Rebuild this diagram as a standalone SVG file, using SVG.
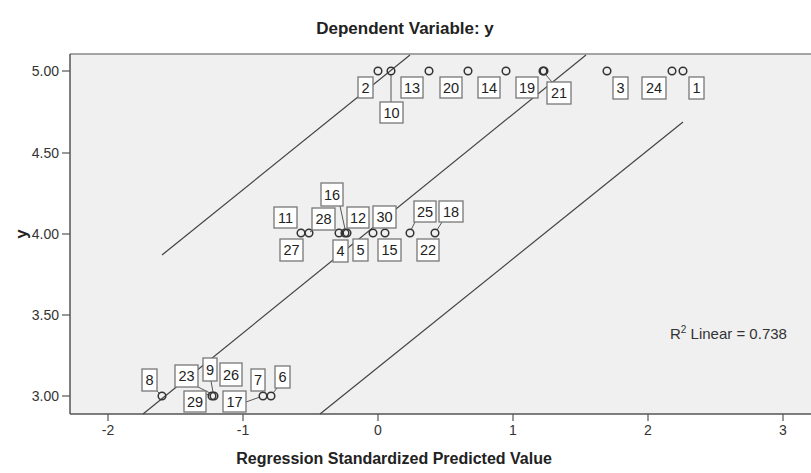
<svg xmlns="http://www.w3.org/2000/svg" width="811" height="473" viewBox="0 0 811 473">
<style>
.t{font-family:"Liberation Sans",Arial,sans-serif;fill:#333}
.tk{font-family:"Liberation Sans",Arial,sans-serif;font-size:14px;fill:#333}
.ttl{font-family:"Liberation Sans",Arial,sans-serif;font-weight:bold;fill:#222}
.lb rect{fill:#fff;stroke:#777;stroke-width:1.3}
.lb text{font-family:"Liberation Sans",Arial,sans-serif;font-size:14.5px;fill:#222;text-anchor:middle}
.pt circle{fill:none;stroke:#333;stroke-width:1.5}
.ld{stroke:#555;stroke-width:1}
.fit{stroke:#444;stroke-width:1.2;fill:none}
.tick{stroke:#555;stroke-width:1.2}
</style>
<rect width="811" height="473" fill="#fff"/>
<g id="plot-area">
<rect x="70" y="54" width="741" height="360" fill="#f0f0f0"/>
<line x1="70" y1="54" x2="811" y2="54" stroke="#888" stroke-width="1.5"/>
<line x1="70" y1="54" x2="70" y2="414" stroke="#555" stroke-width="1.5"/>
<line x1="70" y1="414" x2="811" y2="414" stroke="#555" stroke-width="1.5"/>
</g>
<g id="axes">
<g class="tick">
<line x1="62" y1="71" x2="70" y2="71"/><line x1="62" y1="153" x2="70" y2="153"/><line x1="62" y1="234" x2="70" y2="234"/><line x1="62" y1="315" x2="70" y2="315"/><line x1="62" y1="396" x2="70" y2="396"/>
<line x1="108" y1="414" x2="108" y2="421"/><line x1="243" y1="414" x2="243" y2="421"/><line x1="378" y1="414" x2="378" y2="421"/><line x1="513" y1="414" x2="513" y2="421"/><line x1="648" y1="414" x2="648" y2="421"/><line x1="783" y1="414" x2="783" y2="421"/>
</g>
<g class="tk" text-anchor="end">
<text x="59" y="76">5.00</text><text x="59" y="158">4.50</text><text x="59" y="239">4.00</text><text x="59" y="320">3.50</text><text x="59" y="401">3.00</text>
</g>
<g class="tk" text-anchor="middle">
<text x="108" y="435">-2</text><text x="243" y="435">-1</text><text x="378" y="435">0</text><text x="513" y="435">1</text><text x="648" y="435">2</text><text x="783" y="435">3</text>
</g>
<text class="ttl" x="405" y="34" font-size="17" text-anchor="middle">Dependent Variable: y</text>
<text class="ttl" x="394" y="464" font-size="16" text-anchor="middle">Regression Standardized Predicted Value</text>
<text class="ttl" x="0" y="0" font-size="17" text-anchor="middle" transform="translate(27,234) rotate(-90)">y</text>
<text class="t" x="670" y="339" font-size="15">R<tspan font-size="10" dy="-6">2</tspan><tspan dy="6"> Linear = 0.738</tspan></text>
</g>
<g id="connectors">
<line class="fit" x1="143" y1="414" x2="586" y2="55"/>
<line class="fit" x1="162" y1="255" x2="410" y2="55"/>
<line class="fit" x1="320" y1="414" x2="683" y2="122"/>
<line class="ld" x1="391" y1="75" x2="391" y2="102"/>
<line class="ld" x1="546" y1="75" x2="552" y2="82"/>
<line class="ld" x1="340" y1="206" x2="345" y2="229"/>
<line class="ld" x1="313" y1="230" x2="310" y2="232"/>
<line class="ld" x1="415" y1="222" x2="411" y2="230"/>
<line class="ld" x1="442" y1="222" x2="437" y2="230"/>
<line class="ld" x1="157" y1="391" x2="160" y2="394"/>
<line class="ld" x1="198" y1="387" x2="210" y2="393"/>
<line class="ld" x1="211" y1="381" x2="213" y2="392"/>
<line class="ld" x1="206" y1="394" x2="210" y2="395"/>
<line class="ld" x1="246" y1="402" x2="260" y2="397"/>
<line class="ld" x1="262" y1="391" x2="264" y2="393"/>
<line class="ld" x1="277" y1="388" x2="273" y2="393"/>
</g>
<g id="points" class="pt">
<circle cx="378" cy="71" r="3.8"/><circle cx="391" cy="71" r="3.8"/><circle cx="429" cy="71" r="3.8"/><circle cx="468" cy="71" r="3.8"/><circle cx="506" cy="71" r="3.8"/><circle cx="543" cy="71" r="3.8"/><circle cx="544" cy="71" r="3.8"/><circle cx="607" cy="71" r="3.8"/><circle cx="672" cy="71" r="3.8"/><circle cx="683" cy="71" r="3.8"/>
<circle cx="301" cy="233" r="3.8"/><circle cx="309" cy="233" r="3.8"/><circle cx="339" cy="233" r="3.8"/><circle cx="345" cy="233" r="3.8"/><circle cx="347" cy="233" r="3.8"/><circle cx="373" cy="233" r="3.8"/><circle cx="385" cy="233" r="3.8"/><circle cx="410" cy="233" r="3.8"/><circle cx="435" cy="233" r="3.8"/>
<circle cx="162" cy="396" r="3.8"/><circle cx="212" cy="396" r="3.8"/><circle cx="214" cy="396" r="3.8"/><circle cx="263" cy="396" r="3.8"/><circle cx="271" cy="396" r="3.8"/>
</g>
<g id="label-2" class="lb"><rect x="358" y="77" width="15" height="21"/><text x="365.5" y="93">2</text></g>
<g id="label-10" class="lb"><rect x="380" y="102" width="23" height="21"/><text x="391.5" y="118">10</text></g>
<g id="label-13" class="lb"><rect x="401" y="77" width="22" height="21"/><text x="412" y="93">13</text></g>
<g id="label-20" class="lb"><rect x="440" y="77" width="22" height="21"/><text x="451" y="93">20</text></g>
<g id="label-14" class="lb"><rect x="478" y="77" width="22" height="21"/><text x="489" y="93">14</text></g>
<g id="label-19" class="lb"><rect x="516" y="77" width="22" height="21"/><text x="527" y="93">19</text></g>
<g id="label-21" class="lb"><rect x="547" y="82" width="24" height="22"/><text x="559" y="98">21</text></g>
<g id="label-3" class="lb"><rect x="613" y="77" width="15" height="22"/><text x="620.5" y="93">3</text></g>
<g id="label-24" class="lb"><rect x="642" y="77" width="24" height="22"/><text x="654" y="93">24</text></g>
<g id="label-1" class="lb"><rect x="689" y="77" width="15" height="22"/><text x="696.5" y="93">1</text></g>
<g id="label-16" class="lb"><rect x="321" y="183" width="22" height="23"/><text x="332" y="200">16</text></g>
<g id="label-11" class="lb"><rect x="274" y="207" width="23" height="21"/><text x="285.5" y="223">11</text></g>
<g id="label-28" class="lb"><rect x="312" y="208" width="23" height="22"/><text x="323.5" y="224">28</text></g>
<g id="label-12" class="lb"><rect x="347" y="207" width="22" height="21"/><text x="358" y="223">12</text></g>
<g id="label-30" class="lb"><rect x="373" y="206" width="23" height="22"/><text x="384.5" y="222">30</text></g>
<g id="label-25" class="lb"><rect x="414" y="201" width="22" height="21"/><text x="425" y="217">25</text></g>
<g id="label-18" class="lb"><rect x="439" y="201" width="24" height="21"/><text x="451" y="217">18</text></g>
<g id="label-27" class="lb"><rect x="280" y="239" width="23" height="22"/><text x="291.5" y="255">27</text></g>
<g id="label-4" class="lb"><rect x="333" y="240" width="15" height="22"/><text x="340.5" y="256">4</text></g>
<g id="label-5" class="lb"><rect x="353" y="239" width="15" height="22"/><text x="360.5" y="255">5</text></g>
<g id="label-15" class="lb"><rect x="378" y="239" width="23" height="22"/><text x="389.5" y="255">15</text></g>
<g id="label-22" class="lb"><rect x="417" y="239" width="22" height="22"/><text x="428" y="255">22</text></g>
<g id="label-8" class="lb"><rect x="142" y="369" width="15" height="22"/><text x="149.5" y="385">8</text></g>
<g id="label-23" class="lb"><rect x="175" y="365" width="23" height="22"/><text x="186.5" y="381">23</text></g>
<g id="label-9" class="lb"><rect x="203" y="358" width="14" height="23"/><text x="210" y="375">9</text></g>
<g id="label-26" class="lb"><rect x="220" y="363" width="22" height="23"/><text x="231" y="380">26</text></g>
<g id="label-29" class="lb"><rect x="184" y="391" width="22" height="21"/><text x="195" y="407">29</text></g>
<g id="label-17" class="lb"><rect x="223" y="391" width="23" height="21"/><text x="234.5" y="407">17</text></g>
<g id="label-7" class="lb"><rect x="251" y="369" width="14" height="22"/><text x="258" y="385">7</text></g>
<g id="label-6" class="lb"><rect x="275" y="366" width="15" height="22"/><text x="282.5" y="382">6</text></g>
</svg>
